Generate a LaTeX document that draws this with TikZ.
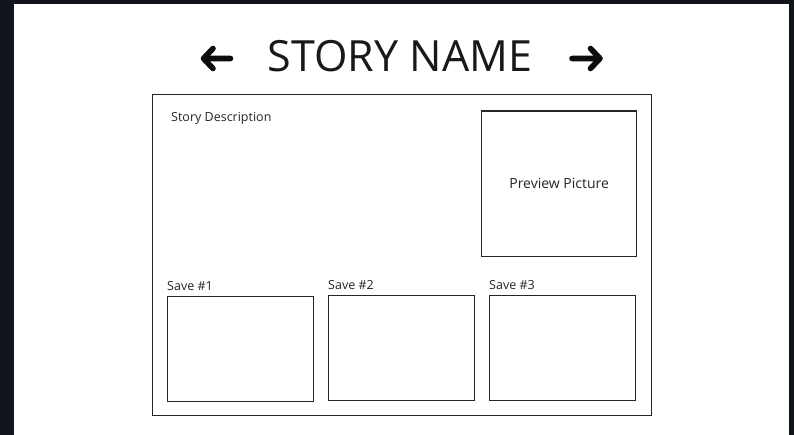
\documentclass[tikz,border=0pt]{standalone}
\usepackage{fontspec}
\setmainfont{Open Sans}
\begin{document}
\begin{tikzpicture}[x=1pt,y=-1pt,
  box/.style={draw=black!85, line width=1.3pt, inner sep=0pt, anchor=north west},
  label/.style={font=\fontsize{12.5}{14}\selectfont, text=black!85, inner sep=0pt, anchor=base west},
  navarrow/.style={line width=5.6pt, line cap=round, line join=round, black!95}]
  % page background and dark surround
  \fill[fill={rgb,255:red,17;green,20;blue,27}] (0,0) rectangle (794,435);
  \fill[white] (14,4) rectangle (789,435);
  \useasboundingbox (0,0) rectangle (794,435);

  % title with navigation arrows
  \node[font=\fontsize{43}{48}\selectfont, text=black!90, inner sep=0pt, anchor=base] (title) at (400,71.5) {STORY NAME};
  \draw[navarrow] (230.5,58.5) -- (203.5,58.5) (213,48.5) -- (203.5,58.5) -- (213,68.5);
  \draw[navarrow] (572,58.5) -- (600,58.5) (590.5,48.5) -- (600,58.5) -- (590.5,68.5);

  % main panel
  \node[box, minimum width=499pt, minimum height=321pt] (panel) at (152,94) {};
  \node[label] (desc) at (171,122) {Story Description};

  % preview picture
  \node[box, minimum width=155pt, minimum height=145.5pt] (previewbox) at (481,110.5) {};
  \node[font=\fontsize{14}{16}\selectfont, text=black!85] (preview) at (previewbox.center) {Preview Picture};

  % save slots
  \node[box, minimum width=146pt, minimum height=105pt] (slot1) at (167,296) {};
  \node[label] (save1) at (167,290.5) {Save \#1};
  \node[box, minimum width=146pt, minimum height=105pt] (slot2) at (328,295) {};
  \node[label] (save2) at (328,289) {Save \#2};
  \node[box, minimum width=146pt, minimum height=105pt] (slot3) at (489,295) {};
  \node[label] (save3) at (489,289) {Save \#3};
\end{tikzpicture}
\end{document}
